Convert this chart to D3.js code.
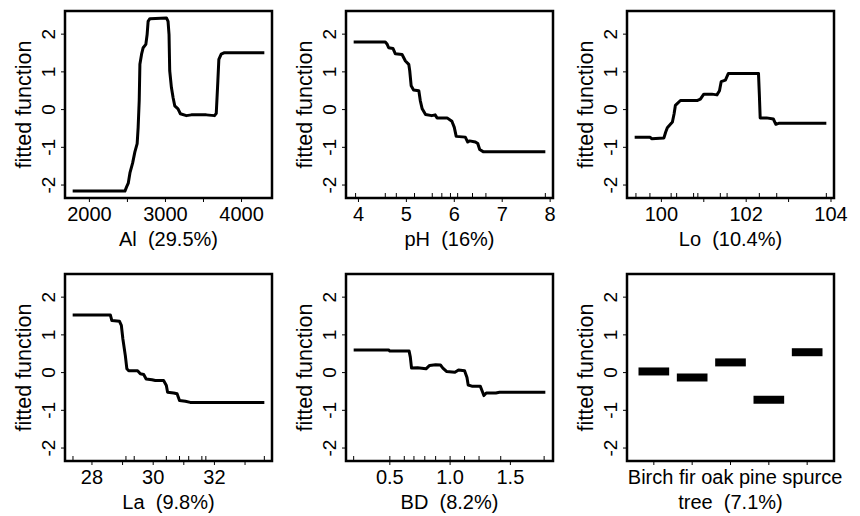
<!DOCTYPE html>
<html lang="en">
<head>
    <meta charset="UTF-8">
    <title>Partial dependence plots</title>
    <script src="https://d3js.org/d3.v7.min.js"></script>
    <style>
        body { margin: 0; background: #fff; font-family: "Liberation Sans", Arial, sans-serif; }
        text { font-family: "Liberation Sans", Arial, sans-serif; fill: #000; }
    </style>
</head>
<body>
    <script>
        // fitted function values
        const alX = [1780, 2467, 2489, 2511, 2533, 2568, 2598, 2628, 2641, 2655, 2664, 2686, 2707, 2742, 2759, 2772, 2795, 3013, 3034, 3047, 3056, 3078, 3100, 3122, 3165, 3196, 3275, 3340, 3537, 3645, 3668, 3689, 3702, 3733, 3776, 4300];
        const alY = [-2.16, -2.16, -2.05, -1.95, -1.68, -1.42, -1.12, -0.9, -0.47, 0.24, 1.2, 1.47, 1.64, 1.73, 1.99, 2.34, 2.41, 2.43, 2.34, 1.99, 1.03, 0.59, 0.32, 0.1, 0.02, -0.11, -0.16, -0.14, -0.14, -0.16, -0.1, 0.76, 1.33, 1.47, 1.51, 1.51];

        const phX = [3.90, 4.56, 4.60, 4.63, 4.72, 4.77, 4.91, 4.98, 5.05, 5.07, 5.10, 5.15, 5.26, 5.29, 5.33, 5.40, 5.53, 5.60, 5.64, 5.85, 5.95, 6.00, 6.04, 6.23, 6.28, 6.32, 6.44, 6.49, 6.53, 6.61, 7.90];
        const phY = [1.79, 1.79, 1.73, 1.64, 1.62, 1.48, 1.46, 1.29, 1.20, 1.03, 0.63, 0.52, 0.50, 0.24, 0.02, -0.13, -0.16, -0.14, -0.22, -0.22, -0.31, -0.47, -0.71, -0.73, -0.86, -0.83, -0.86, -0.90, -1.06, -1.12, -1.12];

        const loX = [99.37, 99.73, 99.77, 100.06, 100.10, 100.14, 100.26, 100.30, 100.33, 100.45, 100.84, 100.92, 101.00, 101.19, 101.31, 101.37, 101.41, 101.51, 101.58, 102.29, 102.31, 102.33, 102.48, 102.64, 102.70, 102.78, 103.89];
        const loY = [-0.73, -0.73, -0.77, -0.75, -0.60, -0.48, -0.33, -0.11, 0.11, 0.24, 0.24, 0.28, 0.41, 0.41, 0.39, 0.50, 0.74, 0.78, 0.96, 0.96, 0.41, -0.22, -0.22, -0.25, -0.39, -0.36, -0.36];

        const laX = [27.37, 28.60, 28.65, 28.90, 28.96, 29.01, 29.09, 29.14, 29.20, 29.49, 29.58, 29.69, 29.77, 29.96, 30.07, 30.34, 30.43, 30.47, 30.67, 30.78, 30.86, 31.05, 31.21, 33.63];
        const laY = [1.53, 1.53, 1.38, 1.36, 1.25, 0.89, 0.45, 0.10, 0.05, 0.05, -0.03, -0.05, -0.17, -0.19, -0.21, -0.21, -0.34, -0.52, -0.54, -0.56, -0.74, -0.76, -0.79, -0.79];

        const bdX = [0.20, 0.49, 0.50, 0.66, 0.67, 0.68, 0.73, 0.80, 0.83, 0.88, 0.92, 0.94, 0.97, 1.04, 1.07, 1.12, 1.14, 1.15, 1.18, 1.25, 1.27, 1.28, 1.30, 1.38, 1.41, 1.79];
        const bdY = [0.60, 0.60, 0.57, 0.57, 0.41, 0.12, 0.13, 0.10, 0.19, 0.21, 0.20, 0.12, 0.03, 0.01, 0.07, 0.05, -0.13, -0.33, -0.36, -0.36, -0.52, -0.61, -0.54, -0.54, -0.52, -0.52];

        const treeLevels = ['Birch', 'fir', 'oak', 'pine', 'spurce'];
        const treeFit = [0.03, -0.13, 0.27, -0.72, 0.54];

        // deciles shown as rug marks
        const phRug = [3.94, 4.56, 4.79, 5.17, 5.54, 5.74, 5.92, 6.07, 6.38, 6.66, 7.90];
        const loRug = [99.40, 99.73, 100.23, 100.36, 100.76, 100.86, 101.39, 101.55, 102.31, 102.72, 103.89];
        const laRug = [27.38, 29.11, 29.38, 30.43, 30.86, 31.16, 31.59, 31.72, 33.63];
        const bdRug = [0.20, 0.50, 0.62, 0.70, 0.79, 0.88, 1.00, 1.12, 1.24, 1.42, 1.78];

        // axis ticks
        const alTicks = [2000, 2500, 3000, 3500, 4000], alLabels = [2000, 3000, 4000];
        const phTicks = [4, 5, 6, 7, 8], phLabels = [4, 5, 6, 7, 8];
        const loTicks = [100, 101, 102, 103, 104], loLabels = [100, 102, 104];
        const laTicks = [28, 29, 30, 31, 32, 33], laLabels = [28, 30, 32];
        const bdTicks = [0.5, 1.0, 1.5], bdLabels = [0.5, 1.0, 1.5];
        const yTicks = [-2, -1, 0, 1, 2];

        const panels = [
            {name: 'Al', pct: '29.5%', xs: alX, ys: alY, rug: [], ticks: alTicks, labels: alLabels, fmt: d3.format('d')},
            {name: 'pH', pct: '16%', xs: phX, ys: phY, rug: phRug, ticks: phTicks, labels: phLabels, fmt: d3.format('d')},
            {name: 'Lo', pct: '10.4%', xs: loX, ys: loY, rug: loRug, ticks: loTicks, labels: loLabels, fmt: d3.format('d')},
            {name: 'La', pct: '9.8%', xs: laX, ys: laY, rug: laRug, ticks: laTicks, labels: laLabels, fmt: d3.format('d')},
            {name: 'BD', pct: '8.2%', xs: bdX, ys: bdY, rug: bdRug, ticks: bdTicks, labels: bdLabels, fmt: d3.format('.1f')},
            {name: 'tree', pct: '7.1%', factor: true}
        ];

        const colLeft = [65, 346, 627], rowTop = [11, 274];
        const pw = 207, ph = 187;

        const svg = d3.select('body').append('svg')
            .attr('width', 860)
            .attr('height', 516);

        // R style axis range: data range padded by 4%
        function padded(ext) {
            const p = (ext[1] - ext[0]) * 0.04;
            return [ext[0] - p, ext[1] + p];
        }

        const allY = [].concat(alY, phY, loY, laY, bdY, treeFit);
        const y = d3.scaleLinear().domain(padded(d3.extent(allY))).range([ph, 0]);

        panels.forEach((p, i) => {
            const g = svg.append('g')
                .attr('transform', `translate(${colLeft[i % 3]},${rowTop[Math.floor(i / 3)]})`);

            let x;
            if (p.factor) {
                x = d3.scaleLinear().domain(padded([0.5, treeLevels.length + 0.5])).range([0, pw]);
            } else {
                x = d3.scaleLinear().domain(padded(d3.extent(p.xs))).range([0, pw]);
            }

            // y axis: ticks outside, labels rotated
            g.selectAll('.ytick').data(yTicks).enter().append('line')
                .attr('x1', -4).attr('x2', 0)
                .attr('y1', d => y(d)).attr('y2', d => y(d))
                .attr('stroke', '#000').attr('stroke-width', 1);
            g.selectAll('.ylab').data(yTicks).enter().append('text')
                .attr('transform', d => `translate(-10,${y(d)}) rotate(-90)`)
                .attr('text-anchor', 'middle')
                .style('font-size', '19px')
                .text(d => d);
            g.append('text')
                .attr('transform', `translate(-34,${ph / 2}) rotate(-90)`)
                .attr('text-anchor', 'middle')
                .style('font-size', '21.5px')
                .text('fitted function');

            // x axis
            const tickVals = p.factor ? d3.range(1, treeLevels.length + 1) : p.ticks;
            g.selectAll('.xtick').data(tickVals).enter().append('line')
                .attr('x1', d => x(d)).attr('x2', d => x(d))
                .attr('y1', ph).attr('y2', ph + 4)
                .attr('stroke', '#000').attr('stroke-width', 1);
            if (p.factor) {
                // level names run together as in the original, starting under the first tick
                g.append('text')
                    .attr('x', x(1) - 26)
                    .attr('y', ph + 23)
                    .style('font-size', '20px')
                    .style('white-space', 'pre')
                    .text(treeLevels.join(' '));
            } else {
                g.selectAll('.xlab').data(p.labels).enter().append('text')
                    .attr('x', d => x(d))
                    .attr('y', ph + 23)
                    .attr('text-anchor', 'middle')
                    .style('font-size', '20px')
                    .text(d => p.fmt(d));
            }
            g.append('text')
                .attr('x', pw / 2)
                .attr('y', ph + 48)
                .attr('text-anchor', 'middle')
                .style('font-size', '20px')
                .style('white-space', 'pre')
                .text(`${p.name}  (${p.pct})`);

            // rug marks inside the box
            if (!p.factor) {
                g.selectAll('.rug').data(p.rug).enter().append('line')
                    .attr('x1', d => x(d)).attr('x2', d => x(d))
                    .attr('y1', ph).attr('y2', ph - 5)
                    .attr('stroke', '#000').attr('stroke-width', 1);
            }

            // fitted curve
            if (p.factor) {
                g.selectAll('.lvl').data(treeFit).enter().append('line')
                    .attr('x1', (d, j) => x(j + 1 - 0.4))
                    .attr('x2', (d, j) => x(j + 1 + 0.4))
                    .attr('y1', d => y(d)).attr('y2', d => y(d))
                    .attr('stroke', '#000').attr('stroke-width', 8);
            } else {
                const pts = d3.zip(p.xs, p.ys);
                g.append('path')
                    .datum(pts)
                    .attr('fill', 'none')
                    .attr('stroke', '#000')
                    .attr('stroke-width', 3)
                    .attr('stroke-linejoin', 'round')
                    .attr('d', d3.line().x(d => x(d[0])).y(d => y(d[1])));
            }

            // box
            g.append('rect')
                .attr('width', pw).attr('height', ph)
                .attr('fill', 'none')
                .attr('stroke', '#000')
                .attr('stroke-width', 2.5);
        });
    </script>
</body>
</html>
